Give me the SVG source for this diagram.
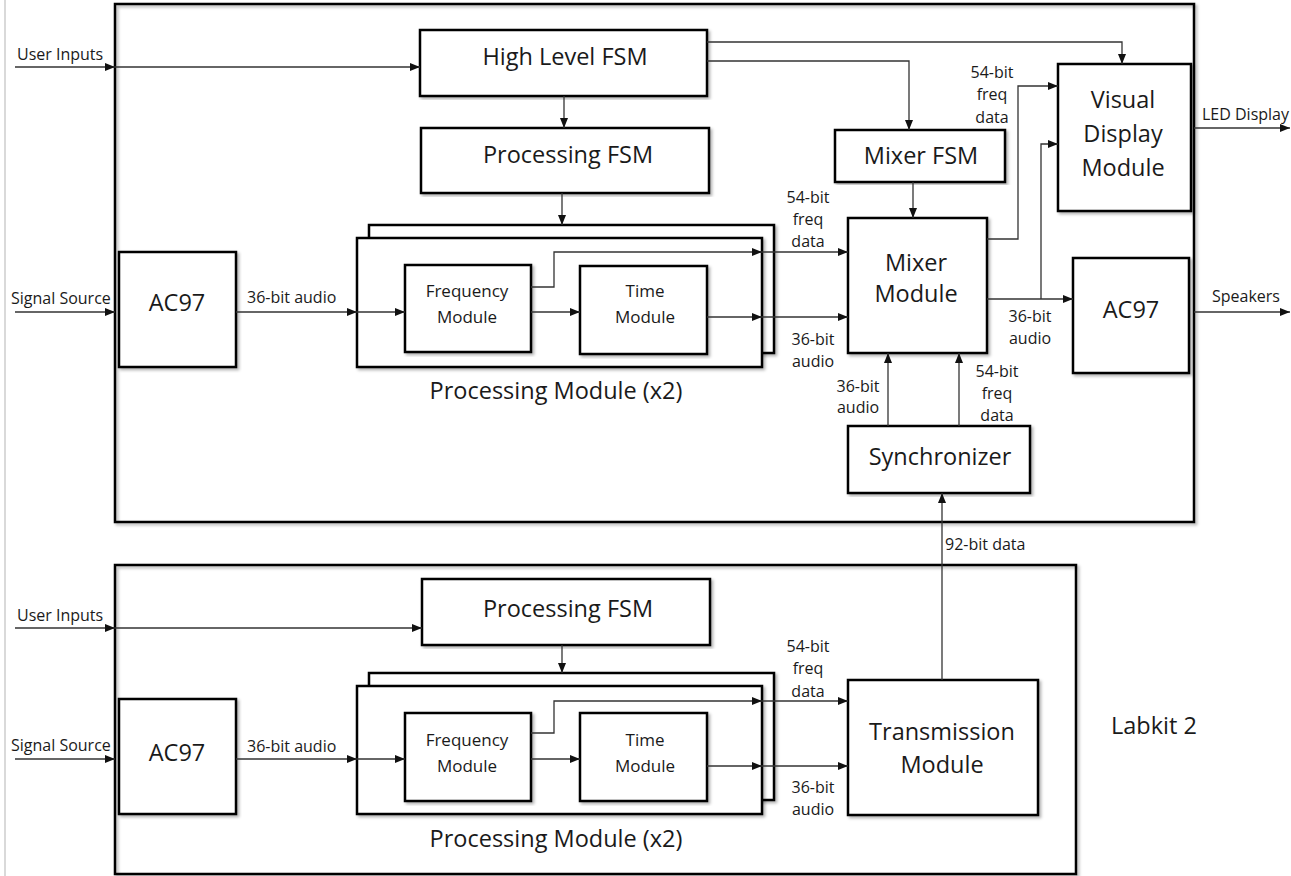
<svg xmlns="http://www.w3.org/2000/svg" width="1291" height="876" viewBox="0 0 1291 876">
<style>
.box{fill:#fff;stroke:#000;stroke-width:2.5;filter:url(#sh)}
.frame{fill:none;stroke:#000;stroke-width:2.5;filter:url(#sh)}
.c{fill:none;stroke:#333;stroke-width:1.3;marker-end:url(#ah)}
text{font-family:"Open Sans","Noto Sans","Liberation Sans",sans-serif;fill:#1a1a1a}
.big{font-size:23.5px;text-anchor:middle}
.mid{font-size:17px;text-anchor:middle}
.sm{font-size:16px}
.smc{font-size:16px;text-anchor:middle}
</style>
<defs>
<filter id="sh" x="-5%" y="-5%" width="110%" height="110%">
<feDropShadow dx="2" dy="2" stdDeviation="1.5" flood-color="#000" flood-opacity="0.3"/>
</filter>
<marker id="ah" markerUnits="userSpaceOnUse" markerWidth="10" markerHeight="8" refX="10" refY="4" orient="auto">
<path d="M0,0 L10,4 L0,8 z" fill="#111"/>
</marker>
</defs>
<rect width="1291" height="876" fill="#fff"/>
<line x1="5" y1="0" x2="5" y2="876" stroke="#ccc" stroke-width="1.5"/>

<g id="labkit1"><rect class="frame" x="115" y="4" width="1079" height="518"/></g>
<g id="labkit2"><rect class="frame" x="115" y="565" width="961" height="309"/>
<text class="big" x="1154" y="734">Labkit 2</text></g>

<g id="highLevelFSM"><rect class="box" x="420" y="30" width="287" height="66"/><text class="big" x="565" y="65">High Level FSM</text></g>
<g id="processingFSM1"><rect class="box" x="421" y="128" width="288" height="65"/><text class="big" x="568" y="163">Processing FSM</text></g>
<g id="processingModule1">
<rect class="box" x="369" y="225" width="405" height="128"/>
<rect class="box" x="357" y="238" width="405" height="129"/>
<text class="big" x="556" y="399">Processing Module (x2)</text></g>
<g id="frequencyModule1"><rect class="box" x="405" y="265" width="126" height="87"/><text class="mid" x="467" y="297">Frequency</text><text class="mid" x="467" y="323">Module</text></g>
<g id="timeModule1"><rect class="box" x="580" y="266" width="127" height="88"/><text class="mid" x="645" y="297">Time</text><text class="mid" x="645" y="323">Module</text></g>
<g id="ac97in1"><rect class="box" x="119" y="252" width="117" height="115"/><text class="big" x="177" y="311">AC97</text></g>
<g id="mixerFSM"><rect class="box" x="835" y="130" width="170" height="52"/><text class="big" x="921" y="164">Mixer FSM</text></g>
<g id="visualDisplay"><rect class="box" x="1058" y="64" width="133" height="147"/><text class="big" x="1123" y="108">Visual</text><text class="big" x="1123" y="142">Display</text><text class="big" x="1123" y="176">Module</text></g>
<g id="mixerModule"><rect class="box" x="848" y="218" width="139" height="135"/><text class="big" x="916" y="271">Mixer</text><text class="big" x="916" y="302">Module</text></g>
<g id="ac97out"><rect class="box" x="1073" y="258" width="116" height="115"/><text class="big" x="1131" y="318">AC97</text></g>
<g id="synchronizer"><rect class="box" x="848" y="426" width="182" height="67"/><text class="big" x="940" y="465">Synchronizer</text></g>

<g id="processingFSM2"><rect class="box" x="422" y="579" width="288" height="66"/><text class="big" x="568" y="617">Processing FSM</text></g>
<g id="processingModule2">
<rect class="box" x="369" y="673" width="405" height="127"/>
<rect class="box" x="357" y="686" width="405" height="128"/>
<text class="big" x="556" y="847">Processing Module (x2)</text></g>
<g id="frequencyModule2"><rect class="box" x="405" y="713" width="126" height="88"/><text class="mid" x="467" y="746">Frequency</text><text class="mid" x="467" y="772">Module</text></g>
<g id="timeModule2"><rect class="box" x="580" y="713" width="127" height="88"/><text class="mid" x="645" y="746">Time</text><text class="mid" x="645" y="772">Module</text></g>
<g id="ac97in2"><rect class="box" x="119" y="699" width="117" height="115"/><text class="big" x="177" y="761">AC97</text></g>
<g id="transmission"><rect class="box" x="848" y="680" width="190" height="135"/><text class="big" x="942" y="740">Transmission</text><text class="big" x="942" y="773">Module</text></g>

<g id="connectors">
<path class="c" d="M15,67 H115"/><path class="c" d="M115,67 H420"/>
<path class="c" d="M564,96 V128"/>
<path class="c" d="M562,193 V225"/>
<path class="c" d="M15,312 H115"/>
<path class="c" d="M236,312 H357"/><path class="c" d="M357,312 H405"/>
<path class="c" d="M531,312 H580"/>
<path class="c" d="M531,287 H554 V252 H762"/><path class="c" d="M762,252 H848"/>
<path class="c" d="M707,317 H762"/><path class="c" d="M762,317 H848"/>
<path class="c" d="M707,61 H909 V130"/>
<path class="c" d="M707,42 H1122 V64"/>
<path class="c" d="M913,182 V218"/>
<path class="c" d="M987,239 H1018 V86 H1058"/>
<path class="c" d="M987,299 H1073"/>
<path class="c" d="M1041,299 V144 H1058"/>
<path class="c" d="M1194,128 H1290"/>
<path class="c" d="M1194,312 H1290"/>
<path class="c" d="M888,426 V353"/>
<path class="c" d="M959,426 V353"/>
<path class="c" d="M942,680 V493"/>
<path class="c" d="M15,628 H115"/><path class="c" d="M115,628 H422"/>
<path class="c" d="M562,645 V673"/>
<path class="c" d="M15,759 H115"/>
<path class="c" d="M236,759 H357"/><path class="c" d="M357,759 H405"/>
<path class="c" d="M531,759 H580"/>
<path class="c" d="M531,733 H554 V701 H762"/><path class="c" d="M762,701 H848"/>
<path class="c" d="M707,766 H762"/><path class="c" d="M762,766 H848"/>
</g>

<g id="labels">
<text class="sm" x="17" y="60">User Inputs</text>
<text class="sm" x="11" y="304">Signal Source</text>
<text class="sm" x="247" y="303">36-bit audio</text>
<text class="smc" x="808" y="203">54-bit</text><text class="smc" x="808" y="225">freq</text><text class="smc" x="808" y="247">data</text>
<text class="smc" x="813" y="345">36-bit</text><text class="smc" x="813" y="367">audio</text>
<text class="smc" x="992" y="78">54-bit</text><text class="smc" x="992" y="100">freq</text><text class="smc" x="992" y="123">data</text>
<text class="smc" x="1030" y="322">36-bit</text><text class="smc" x="1030" y="344">audio</text>
<text class="smc" x="858" y="392">36-bit</text><text class="smc" x="858" y="413">audio</text>
<text class="smc" x="997" y="377">54-bit</text><text class="smc" x="997" y="399">freq</text><text class="smc" x="997" y="421">data</text>
<text class="sm" x="945" y="550">92-bit data</text>
<text class="sm" x="1202" y="120">LED Display</text>
<text class="sm" x="1212" y="302">Speakers</text>
<text class="sm" x="17" y="621">User Inputs</text>
<text class="sm" x="11" y="751">Signal Source</text>
<text class="sm" x="247" y="752">36-bit audio</text>
<text class="smc" x="808" y="652">54-bit</text><text class="smc" x="808" y="674">freq</text><text class="smc" x="808" y="697">data</text>
<text class="smc" x="813" y="793">36-bit</text><text class="smc" x="813" y="815">audio</text>
</g>
</svg>
